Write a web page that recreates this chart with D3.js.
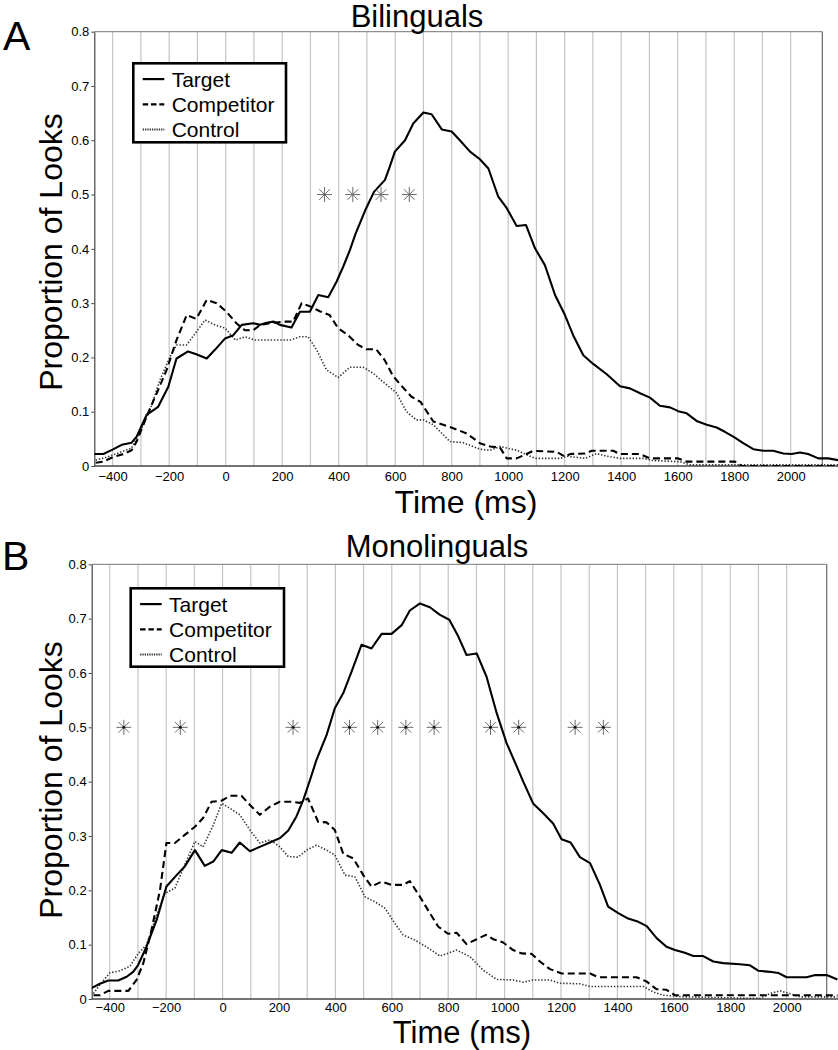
<!DOCTYPE html>
<html><head><meta charset="utf-8">
<script src="https://cdn.jsdelivr.net/npm/d3@7/dist/d3.min.js"></script>
<style>
body{margin:0;background:#fff}
svg{display:block}
text{font-family:"Liberation Sans",Arial,Helvetica,sans-serif;fill:#000}
</style>
</head><body>
<svg id="chart" width="838" height="1050"></svg>
<script>
// ---------- data ----------
const timeTickLabels = [-400,-200,0,200,400,600,800,1000,1200,1400,1600,1800,2000];
const propTickLabels = [0,0.1,0.2,0.3,0.4,0.5,0.6,0.7,0.8];
const gridTimes = [-400,-300,-200,-100,0,100,200,300,400,500,600,700,800,900,1000,1100,1200,1300,1400,1500,1600,1700,1800,1900,2000];
const seriesNames = ["Target","Competitor","Control"];
const panelTitles = ["Bilinguals","Monolinguals"];
const panelLetters = ["A","B"];
const starLevel = 0.5;

const biTarget = [[-465,0.022],[-433,0.022],[-397,0.031],[-368,0.039],[-333,0.043],[-315,0.054],[-280,0.094],[-239,0.109],[-203,0.146],[-174,0.198],[-133,0.211],[-104,0.206],[-67,0.198],[-38,0.214],[-2,0.235],[27,0.241],[57,0.26],[98,0.263],[122,0.26],[145,0.264],[170,0.266],[192,0.26],[233,0.255],[263,0.284],[298,0.284],[328,0.315],[363,0.311],[392,0.339],[416,0.367],[440,0.398],[460,0.428],[494,0.471],[525,0.505],[564,0.527],[580,0.55],[599,0.579],[635,0.60],[664,0.631],[700,0.651],[729,0.648],[765,0.62],[800,0.616],[829,0.60],[865,0.579],[900,0.565],[930,0.548],[965,0.496],[995,0.475],[1030,0.442],[1063,0.444],[1095,0.401],[1130,0.370],[1166,0.315],[1201,0.278],[1230,0.241],[1266,0.204],[1301,0.188],[1349,0.169],[1396,0.147],[1431,0.143],[1467,0.134],[1502,0.126],[1537,0.111],[1573,0.108],[1602,0.101],[1632,0.097],[1667,0.083],[1703,0.076],[1738,0.071],[1767,0.063],[1797,0.054],[1832,0.042],[1868,0.031],[1903,0.028],[1938,0.028],[1974,0.023],[2003,0.022],[2033,0.025],[2062,0.022],[2098,0.014],[2133,0.014],[2175,0.01]];
const biCompetitor = [[-460,0.006],[-433,0.008],[-397,0.017],[-362,0.022],[-333,0.029],[-315,0.045],[-280,0.091],[-244,0.134],[-209,0.177],[-174,0.232],[-138,0.278],[-104,0.271],[-67,0.306],[-32,0.30],[3,0.284],[38,0.263],[68,0.25],[98,0.25],[122,0.26],[157,0.263],[204,0.266],[239,0.266],[269,0.30],[304,0.293],[333,0.285],[368,0.278],[398,0.254],[433,0.241],[469,0.223],[498,0.215],[533,0.215],[563,0.195],[592,0.166],[622,0.148],[657,0.128],[690,0.118],[735,0.082],[794,0.072],[853,0.060],[900,0.042],[936,0.036],[971,0.034],[995,0.014],[1030,0.014],[1065,0.022],[1089,0.028],[1172,0.026],[1201,0.017],[1219,0.022],[1272,0.023],[1296,0.028],[1372,0.028],[1396,0.022],[1467,0.022],[1502,0.014],[1602,0.014],[1632,0.008],[1803,0.008],[1827,0],[2175,0]];
const biControl = [[-460,0.011],[-422,0.016],[-375,0.025],[-333,0.033],[-303,0.063],[-268,0.103],[-233,0.158],[-197,0.201],[-174,0.223],[-138,0.223],[-104,0.247],[-73,0.269],[-38,0.26],[-2,0.254],[34,0.232],[69,0.238],[104,0.232],[145,0.232],[228,0.232],[263,0.238],[292,0.238],[322,0.214],[357,0.177],[398,0.163],[440,0.182],[486,0.182],[522,0.171],[557,0.155],[604,0.135],[640,0.10],[675,0.085],[700,0.085],[735,0.076],[794,0.045],[841,0.043],[900,0.031],[936,0.029],[971,0.036],[1030,0.029],[1095,0.014],[1184,0.014],[1207,0.018],[1272,0.014],[1313,0.023],[1349,0.018],[1396,0.014],[1479,0.014],[1514,0.010],[1608,0.008],[1644,0.002],[2175,0.002]];
const biStars = [350,450,550,650];

const monoTarget = [[-465,0.020],[-435,0.028],[-405,0.034],[-370,0.034],[-340,0.041],[-317,0.050],[-299,0.063],[-270,0.096],[-234,0.145],[-199,0.207],[-163,0.228],[-134,0.244],[-98,0.274],[-63,0.245],[-33,0.253],[-3,0.274],[32,0.269],[61,0.288],[97,0.272],[132,0.280],[168,0.288],[203,0.296],[233,0.31],[262,0.336],[286,0.366],[310,0.403],[333,0.44],[369,0.486],[398,0.535],[428,0.563],[457,0.602],[493,0.652],[528,0.645],[564,0.672],[599,0.672],[635,0.688],[664,0.715],[700,0.728],[735,0.721],[771,0.707],[804,0.698],[836,0.667],[865,0.633],[901,0.636],[936,0.593],[972,0.526],[1007,0.471],[1043,0.428],[1066,0.40],[1101,0.360],[1137,0.342],[1172,0.323],[1202,0.294],[1234,0.288],[1267,0.261],[1303,0.250],[1338,0.210],[1367,0.170],[1403,0.158],[1438,0.148],[1474,0.142],[1504,0.134],[1539,0.112],[1574,0.096],[1604,0.090],[1639,0.085],[1669,0.079],[1704,0.079],[1740,0.069],[1775,0.066],[1834,0.064],[1870,0.062],[1899,0.052],[1941,0.050],[1970,0.048],[2000,0.040],[2071,0.040],[2101,0.044],[2142,0.044],[2180,0.036]];
const monoCompetitor = [[-458,0.007],[-435,0.007],[-405,0.015],[-334,0.015],[-305,0.035],[-281,0.066],[-252,0.127],[-222,0.20],[-199,0.287],[-169,0.287],[-134,0.302],[-98,0.317],[-69,0.333],[-39,0.363],[-3,0.365],[26,0.374],[67,0.374],[97,0.357],[132,0.339],[168,0.354],[203,0.363],[244,0.363],[274,0.361],[303,0.369],[339,0.326],[369,0.325],[398,0.311],[428,0.267],[463,0.259],[499,0.228],[528,0.207],[564,0.216],[599,0.21],[640,0.21],[664,0.217],[700,0.188],[735,0.158],[765,0.133],[800,0.120],[830,0.122],[865,0.101],[901,0.110],[934,0.118],[960,0.110],[995,0.104],[1030,0.090],[1060,0.084],[1096,0.083],[1125,0.069],[1161,0.055],[1202,0.047],[1303,0.047],[1332,0.040],[1468,0.040],[1504,0.032],[1539,0.018],[1574,0.017],[1604,0.007],[2180,0.007]];
const monoControl = [[-458,0.010],[-435,0.026],[-400,0.048],[-364,0.052],[-329,0.060],[-299,0.084],[-270,0.099],[-240,0.145],[-205,0.194],[-169,0.204],[-134,0.247],[-98,0.29],[-69,0.28],[-33,0.32],[-3,0.36],[32,0.349],[61,0.339],[97,0.311],[132,0.287],[168,0.293],[203,0.280],[233,0.262],[268,0.261],[298,0.274],[333,0.283],[369,0.274],[398,0.265],[434,0.228],[469,0.225],[505,0.188],[540,0.179],[576,0.167],[611,0.139],[640,0.118],[676,0.110],[723,0.096],[771,0.079],[830,0.090],[877,0.078],[924,0.053],[972,0.036],[1030,0.035],[1066,0.031],[1101,0.035],[1161,0.035],[1196,0.029],[1267,0.028],[1303,0.023],[1492,0.023],[1527,0.013],[1562,0.007],[1634,0.004],[1905,0.001],[1941,0.010],[1976,0.015],[2011,0.010],[2047,0.004],[2180,0.004]];
const monoStars = [-350,-150,250,450,550,650,750,950,1050,1250,1350];

// ---------- layout ----------
const W = 838;
const panels = [
  {title:panelTitles[0], letter:panelLetters[0], series:[biTarget,biCompetitor,biControl], stars:biStars, dotStars:false,
   left:94.3, right:822.3, top:31.7, bottom:466, xdom:[-465,2112], tickPad:6,
   titleX:417, titleY:27, letterX:3, letterY:50, xlabX:466, xlabY:513, xlabSize:32, ylabX:62, ylabY:252,
   legX:133.3, legY:63.3, legW:152.7, legH:79},
  {title:panelTitles[1], letter:panelLetters[1], series:[monoTarget,monoCompetitor,monoControl], stars:monoStars, dotStars:true,
   left:91.7, right:826.7, top:564.3, bottom:999, xdom:[-464,2142], tickPad:4,
   titleX:437, titleY:557, letterX:2, letterY:570, xlabX:462, xlabY:1043, xlabSize:31, ylabX:62, ylabY:780,
   legX:130.7, legY:588.3, legW:153.3, legH:78.4}
];
const styles = [
  {stroke:"#000", width:2.1, dash:null},
  {stroke:"#000", width:2.1, dash:"7,4"},
  {stroke:"#333", width:1.6, dash:"1.4,1.8"}
];

const svg = d3.select("#chart");
svg.append("rect").attr("width",W).attr("height",1050).attr("fill","#fff");

panels.forEach((p,pi)=>{
  const x = d3.scaleLinear().domain(p.xdom).range([p.left,p.right]);
  const y = d3.scaleLinear().domain([0,0.8]).range([p.bottom,p.top]);
  const g = svg.append("g");

  // gridlines
  g.selectAll("line.grid").data(gridTimes).enter().append("line")
    .attr("x1",d=>x(d)).attr("x2",d=>x(d)).attr("y1",p.top).attr("y2",p.bottom)
    .attr("stroke","#c4c4c4").attr("stroke-width",1.2);

  // frame: top & right
  g.append("line").attr("x1",p.left).attr("x2",p.right).attr("y1",p.top).attr("y2",p.top)
    .attr("stroke","#777").attr("stroke-width",1);
  g.append("line").attr("x1",p.right).attr("x2",p.right).attr("y1",p.top).attr("y2",p.bottom)
    .attr("stroke","#666").attr("stroke-width",1.2);

  // axes
  const yAxis = d3.axisLeft(y).tickValues(propTickLabels).tickSize(3).tickSizeOuter(0).tickPadding(2)
    .tickFormat(d=>d===0?"0":d3.format(".1f")(d));
  const ya = g.append("g").attr("transform",`translate(${p.left},0)`).call(yAxis);
  ya.select(".domain").attr("stroke","#444").attr("stroke-width",1.2);
  ya.selectAll(".tick line").attr("stroke","#444");
  ya.selectAll("text").attr("font-size",13).attr("font-family","'Liberation Sans',Arial,sans-serif");

  const xAxis = d3.axisBottom(x).tickValues(timeTickLabels).tickSize(0).tickPadding(p.tickPad).tickFormat(d3.format("d"));
  const xa = g.append("g").attr("transform",`translate(0,${p.bottom})`).call(xAxis);
  xa.select(".domain").remove();
  xa.selectAll("text").attr("font-size",13).attr("font-family","'Liberation Sans',Arial,sans-serif");
  g.append("line").attr("x1",p.left).attr("x2",W).attr("y1",p.bottom).attr("y2",p.bottom)
    .attr("stroke","#444").attr("stroke-width",1.3);

  // clip for curves
  const cid = "clip"+pi;
  svg.append("clipPath").attr("id",cid).append("rect")
    .attr("x",p.left).attr("y",p.top-20).attr("width",W-p.left).attr("height",p.bottom-p.top+20);

  const line = d3.line().x(d=>x(d[0])).y(d=>y(d[1]));
  const cg = g.append("g").attr("clip-path",`url(#${cid})`);
  [2,1,0].forEach(si=>{
    const s = styles[si];
    cg.append("path").datum(p.series[si]).attr("d",line)
      .attr("fill","none").attr("stroke",s.stroke).attr("stroke-width",s.width)
      .attr("stroke-linejoin","round")
      .attr("stroke-dasharray",s.dash);
  });

  // stars
  const r = 7.5;
  const sg = g.selectAll("g.star").data(p.stars).enter().append("g")
    .attr("transform",d=>`translate(${x(d)},${y(starLevel)})`);
  [0,45,90,135].forEach(a=>{
    const rad = a*Math.PI/180;
    sg.append("line").attr("x1",-r*Math.cos(rad)).attr("y1",-r*Math.sin(rad))
      .attr("x2",r*Math.cos(rad)).attr("y2",r*Math.sin(rad))
      .attr("stroke","#6a6a6a").attr("stroke-width",1);
  });
  if(p.dotStars) sg.append("circle").attr("r",1.4).attr("fill","#111");

  // titles & labels
  svg.append("text").attr("x",p.titleX).attr("y",p.titleY).attr("text-anchor","middle")
    .attr("font-size",31).text(p.title);
  svg.append("text").attr("x",p.letterX).attr("y",p.letterY).attr("font-size",41).text(p.letter);
  svg.append("text").attr("x",p.xlabX).attr("y",p.xlabY).attr("text-anchor","middle")
    .attr("font-size",p.xlabSize).text("Time (ms)");
  svg.append("text").attr("transform",`translate(${p.ylabX},${p.ylabY}) rotate(-90)`)
    .attr("text-anchor","middle").attr("font-size",32).text("Proportion of Looks");

  // legend
  const lg = svg.append("g").attr("transform",`translate(${p.legX},${p.legY})`);
  lg.append("rect").attr("width",p.legW).attr("height",p.legH).attr("fill","#fff")
    .attr("stroke","#000").attr("stroke-width",2.6);
  seriesNames.forEach((n,i)=>{
    const cy = 15.8 + i*25.2;
    const s = styles[i];
    lg.append("line").attr("x1",9.4).attr("x2",31).attr("y1",cy).attr("y2",cy)
      .attr("stroke",s.stroke).attr("stroke-width",i===2?1.8:2.2)
      .attr("stroke-dasharray",i===1?"5.5,2.8":(i===2?"1.3,1":null));
    lg.append("text").attr("x",38.4).attr("y",cy+7.5).attr("font-size",21).text(n);
  });
});
</script>
</body></html>
